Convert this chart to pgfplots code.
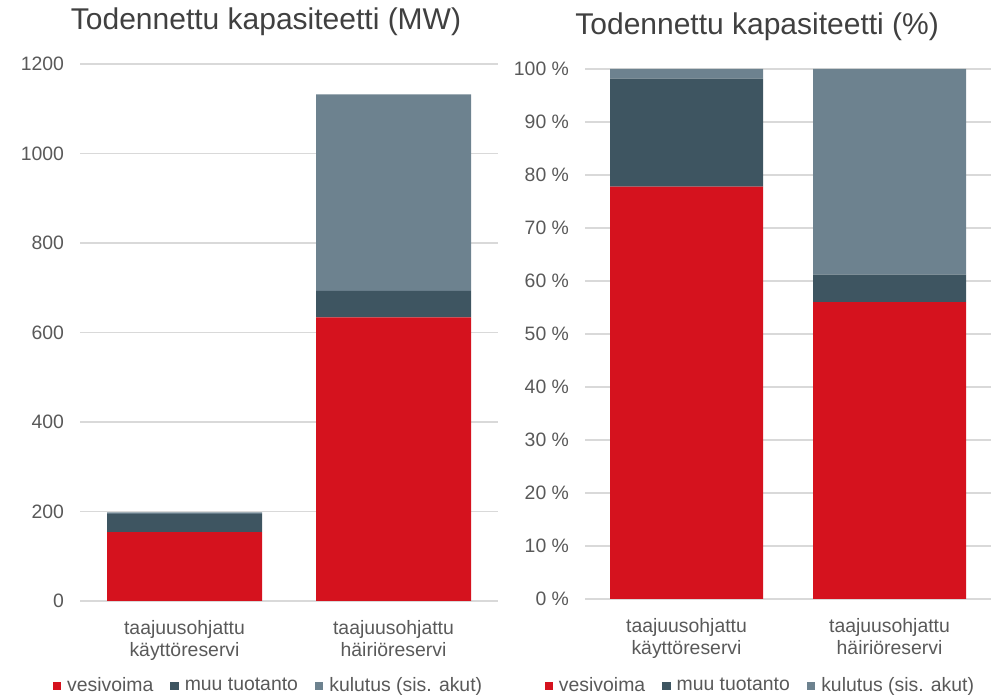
\documentclass[border=0pt]{standalone}
\usepackage{pgfplots}
\pgfplotsset{compat=1.18}
\usepackage{fontspec}
\setmainfont{Liberation Sans}
\definecolor{cred}{HTML}{D5121E}
\definecolor{cdark}{HTML}{3E5561}
\definecolor{clight}{HTML}{6D828F}
\definecolor{ctext}{HTML}{595959}
\definecolor{ctitle}{HTML}{404040}
\definecolor{cgrid}{HTML}{D9D9D9}
\pgfplotsset{
  barstyle/.style={
    scale only axis,
    ybar stacked,
    ymin=0,
    xmin=-0.5, xmax=1.5,
    enlargelimits=false,
    axis line style={draw=none},
    tick style={draw=none},
    major tick length=0pt,
    ymajorgrids,
    grid style={cgrid, line width=0.9pt},
    xtick={0,1},
    xticklabels={taajuusohjattu\\käyttöreservi, taajuusohjattu\\häiriöreservi},
    xticklabel style={align=center, text=ctext, font=\fontsize{9.7}{11}\selectfont, yshift=-6pt},
    yticklabel style={text=ctext, font=\fontsize{9.7}{11}\selectfont, xshift=-4.5pt},
    /pgf/number format/assume math mode=true,
    /pgf/number format/set thousands separator={},
    title style={font=\fontsize{15}{18}\selectfont, text=ctitle, anchor=base},
    legend columns=3,
    legend cell align=left,
    legend style={draw=none, fill=none, font=\fontsize{9.7}{11}\selectfont, text=ctext,
      anchor=center, inner sep=0pt,
      /tikz/every odd column/.append style={column sep=1.5pt},
      /tikz/every even column/.append style={column sep=7pt},
      nodes={inner xsep=1.5pt}},
    legend image code/.code={\fill[##1] (0pt,-2.1pt) rectangle (4.2pt,2.1pt);},
  }
}
\begin{document}
\begin{tikzpicture}
\useasboundingbox (0,0) rectangle (500pt,347.5pt);
\begin{axis}[barstyle,
  at={(40pt,47pt)}, anchor=south west,
  width=209pt, height=268.5pt,
  bar width=77.5pt,
  ymax=1200, ytick={0,200,...,1200},
  title={Todennettu kapasiteetti (MW)},
  title style={at={(0.445,1)}, yshift=11pt},
  legend style={at={(0.452,-0.158)}},
]
\addplot[fill=cred, draw=none] coordinates {(0,154) (1,634)};
\addplot[fill=cdark, draw=none] coordinates {(0,40.5) (1,59)};
\addplot[fill=clight, draw=none] coordinates {(0,3.5) (1,439)};
\legend{vesivoima, muu tuotanto, kulutus (sis. akut)}
\end{axis}
\begin{axis}[barstyle,
  at={(292.5pt,48pt)}, anchor=south west,
  width=203pt, height=265pt,
  bar width=76.5pt,
  ymax=100, ytick={0,10,...,100},
  yticklabels={0 \%,10 \%,20 \%,30 \%,40 \%,50 \%,60 \%,70 \%,80 \%,90 \%,100 \%},
  title={Todennettu kapasiteetti (\%)},
  title style={at={(0.424,1)}, yshift=11pt},
  legend style={at={(0.433,-0.164)}},
]
\addplot[fill=cred, draw=none] coordinates {(0,77.8) (1,56.0)};
\addplot[fill=cdark, draw=none] coordinates {(0,20.4) (1,5.2)};
\addplot[fill=clight, draw=none] coordinates {(0,1.8) (1,38.8)};
\legend{vesivoima, muu tuotanto, kulutus (sis. akut)}
\end{axis}
\end{tikzpicture}
\end{document}
